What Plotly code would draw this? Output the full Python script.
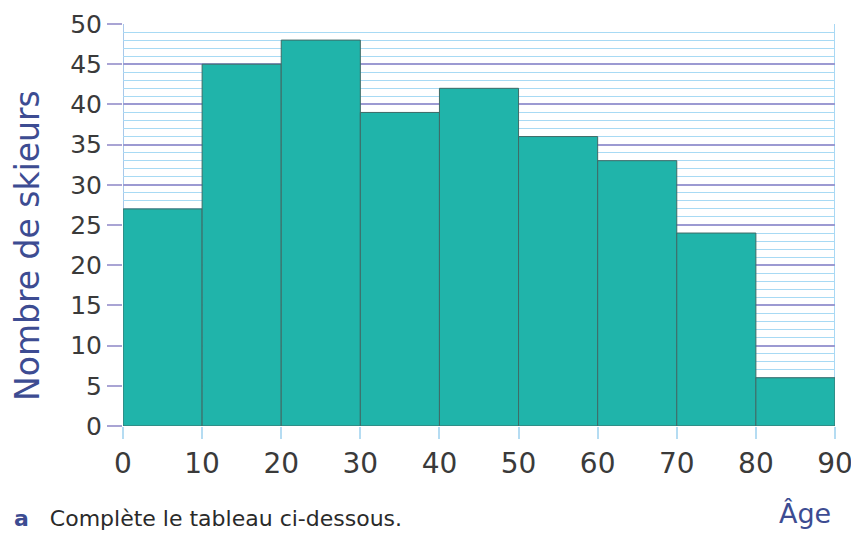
import plotly.graph_objects as go

bin_starts = [0, 10, 20, 30, 40, 50, 60, 70, 80]
counts = [27, 45, 48, 39, 42, 36, 33, 24, 6]
x_ticks = [0, 10, 20, 30, 40, 50, 60, 70, 80, 90]
y_ticks = [0, 5, 10, 15, 20, 25, 30, 35, 40, 45, 50]
bin_width = 10

# page has an 8px body margin, so the figure is offset by 8px
OFF = 8
W, H = 859 - OFF, 534 - OFF
ML, MR, MT, MB = 123 - OFF, 24, 24 - OFF, 108
PW, PH = W - ML - MR, H - MT - MB
X0, Y0 = 123, 426  # page pixel of plot origin


def px(xp):
    return (xp - X0) / PW


def py(yp):
    return (Y0 - yp) / PH


fig = go.Figure()
fig.add_trace(go.Bar(
    x=[b + bin_width / 2 for b in bin_starts],
    y=counts,
    width=[bin_width] * len(bin_starts),
    marker=dict(color="#20b4aa", line=dict(color="#3f6a66", width=1)),
    showlegend=False,
))

fig.update_layout(
    width=W, height=H,
    margin=dict(l=ML, r=MR, t=MT, b=MB),
    paper_bgcolor="white", plot_bgcolor="white",
    font=dict(family="DejaVu Sans", color="#3c3c3c"),
    xaxis=dict(
        range=[0, 90], tickvals=x_ticks, ticktext=[str(v) for v in x_ticks],
        showgrid=False, zeroline=False, showline=False, automargin=False,
        ticks="outside", ticklen=12, tickcolor="#b5dcf2", tickwidth=2,
        tickfont=dict(size=28, color="#3a3a3a"),
    ),
    yaxis=dict(
        range=[0, 50], tickvals=y_ticks, automargin=False,
        showgrid=True, gridcolor="#9c9ad2", gridwidth=1.5,
        minor=dict(dtick=1, showgrid=True, gridcolor="#a8daf4", gridwidth=1),
        zeroline=False, showline=False,
        ticks="outside", ticklen=15, tickcolor="#a9a4d4", tickwidth=2,
        tickfont=dict(size=25, color="#3a3a3a"),
    ),
    shapes=[
        dict(type="line", xref="x", yref="paper", x0=0, x1=0, y0=0, y1=1,
             line=dict(color="#a9c8ea", width=2), layer="below"),
        dict(type="line", xref="x", yref="paper", x0=90, x1=90, y0=0, y1=1,
             line=dict(color="#a9d8f4", width=2), layer="below"),
    ],
    annotations=[
        dict(text="Nombre de skieurs", xref="paper", yref="paper",
             x=px(27), y=py(246),
             xanchor="center", yanchor="middle", textangle=-90, showarrow=False,
             font=dict(size=33, color="#3d4c92")),
        dict(text="Âge", xref="paper", yref="paper",
             x=px(805), y=py(514),
             xanchor="center", yanchor="middle", showarrow=False,
             font=dict(size=27, color="#3d4c92")),
        dict(text="<span style='color:#3d4c92'><b>a</b></span>   Complète le tableau ci-dessous.",
             xref="paper", yref="paper",
             x=px(12), y=py(533),
             xanchor="left", yanchor="bottom", showarrow=False,
             font=dict(size=22, color="#2a2a2a")),
    ],
)

fig.write_html("out.html")
